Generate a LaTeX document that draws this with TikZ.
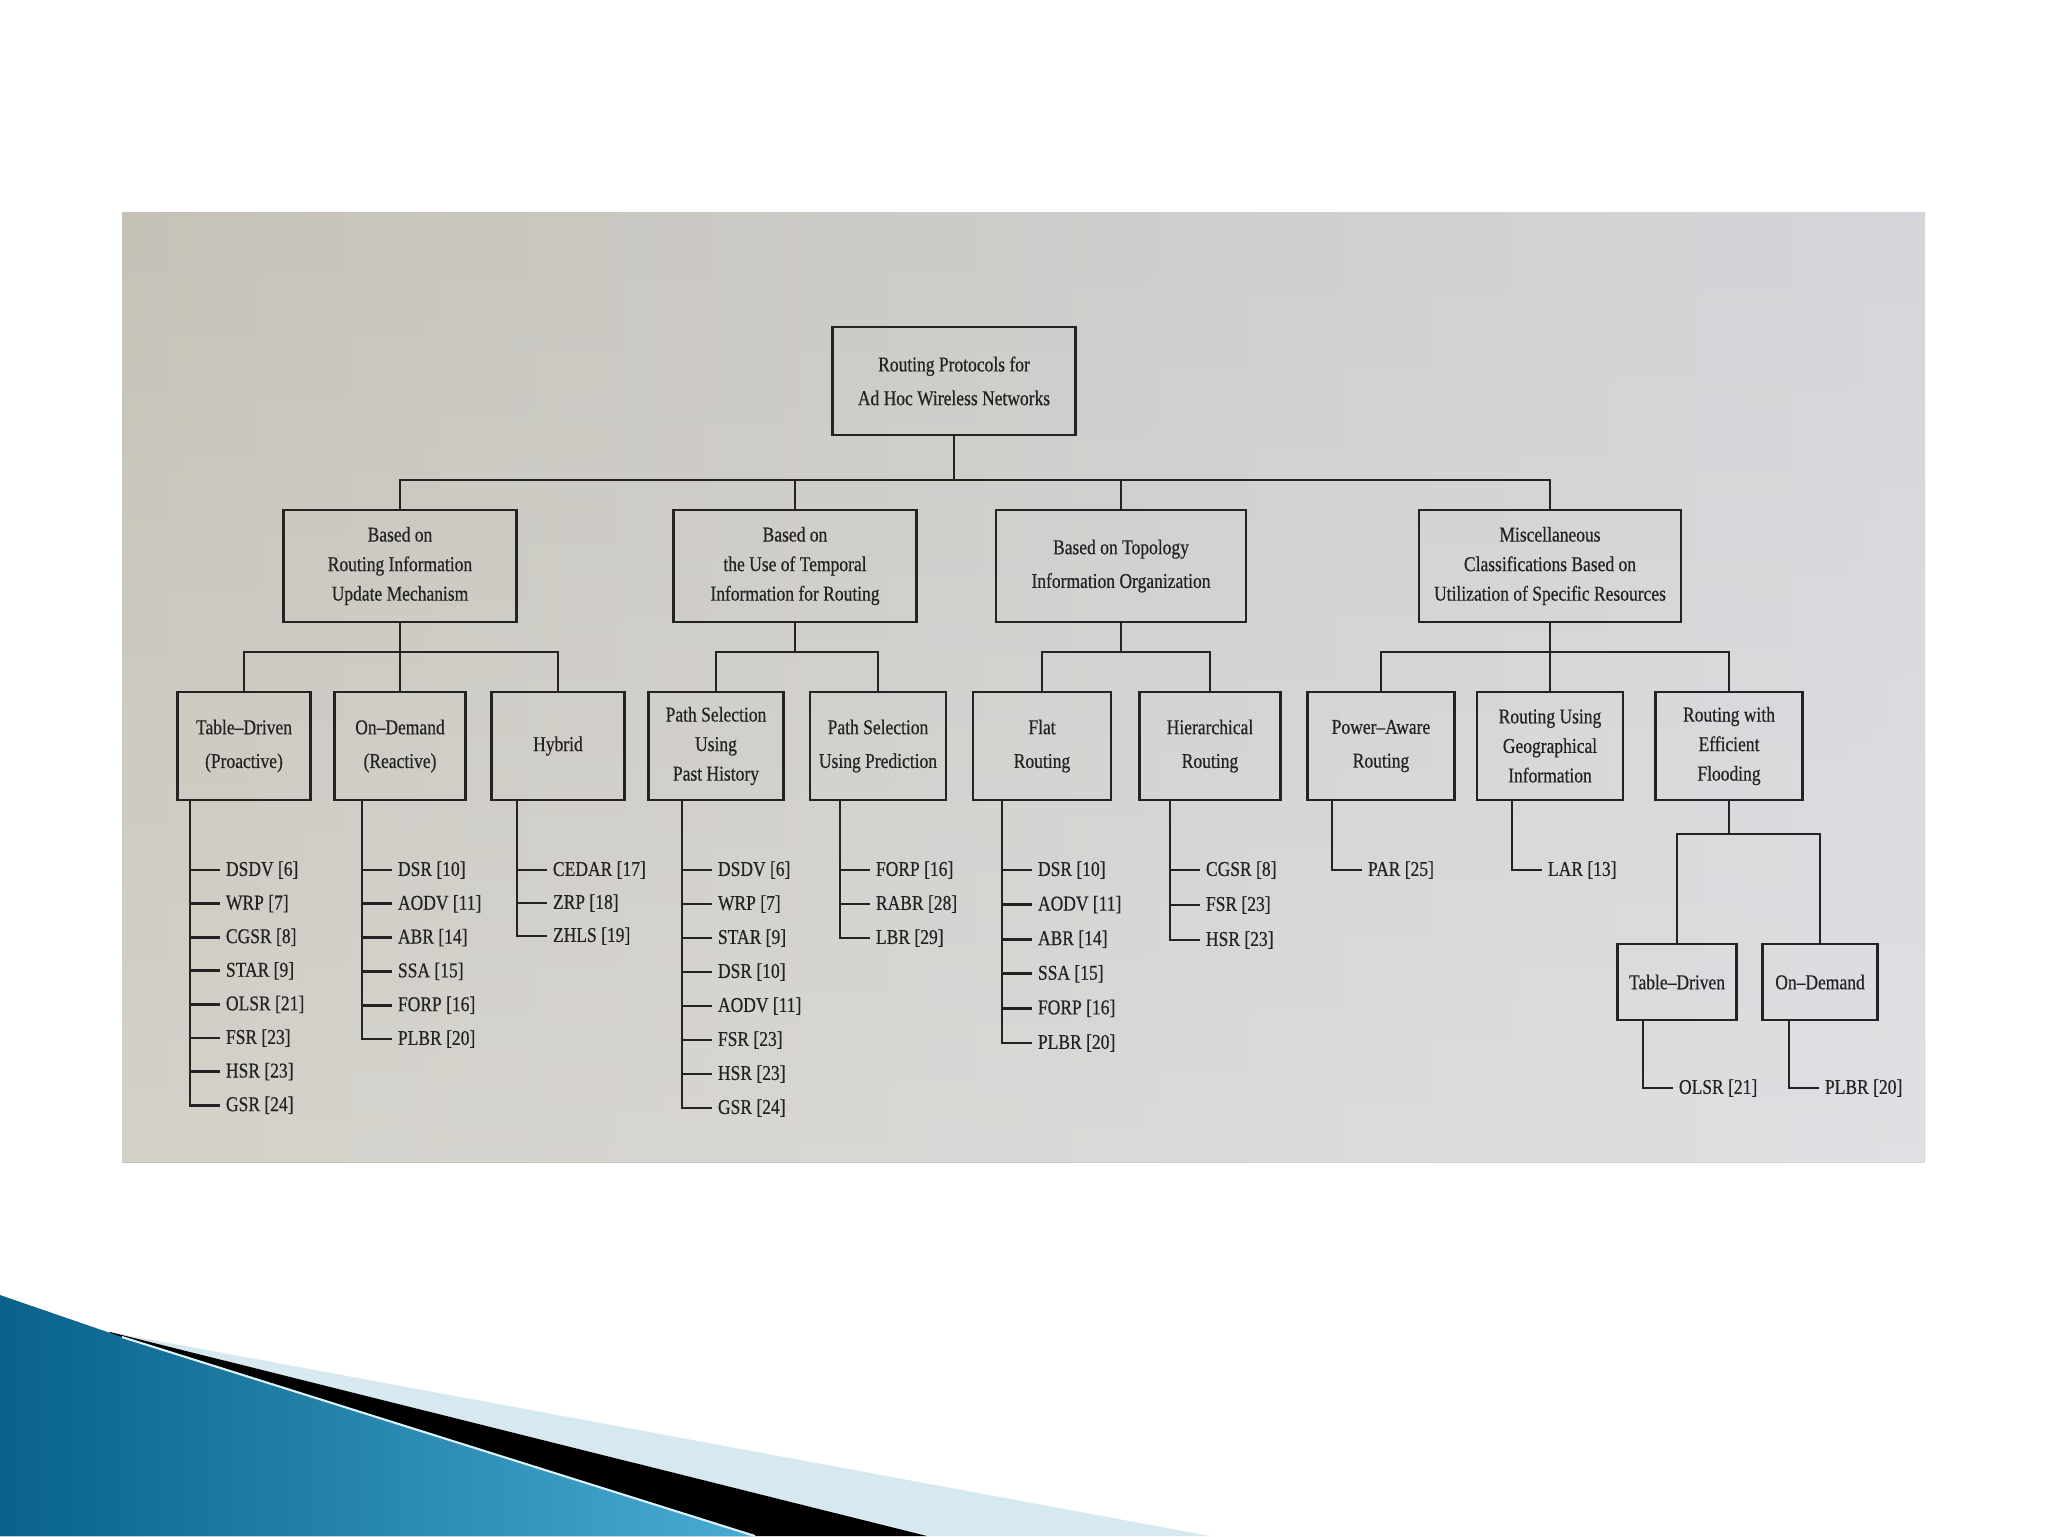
\documentclass[tikz,border=0pt]{standalone}
\usepackage{fontspec}
\setmainfont[FakeStretch=0.83, FakeBold=0.5]{Liberation Serif}
\usetikzlibrary{fadings}

\definecolor{photoL}{RGB}{198,194,184}
\definecolor{photoM}{RGB}{220,220,220}
\definecolor{photoR}{RGB}{213,214,219}
\definecolor{ink}{RGB}{35,35,35}
\definecolor{tealD}{RGB}{8,98,138}
\definecolor{tealL}{RGB}{72,172,210}
\definecolor{paleblue}{RGB}{214,232,240}

\tikzset{
  box/.style={draw=ink, line width=0.8pt, align=center, inner sep=2pt, text=ink,
    font=\fontsize{6}{8.4}\selectfont},
  loose/.style={font=\fontsize{6}{9.6}\selectfont},
  leaf/.style={anchor=west, inner sep=1.5pt, text=ink, font=\fontsize{6}{7}\selectfont},
  link/.style={draw=ink, line width=0.8pt},
}

% parent, spine x, first y, step, list of protocols
\newcommand{\leaflist}[5]{%
  \coordinate (#1-sp) at (#2,0);
  \foreach \t [count=\i] in {#5} {
    \node[leaf] (#1-\i) at ({#2+30},{#3+#4*(\i-1)}) {\t};
    \draw[link] (#1.south -| #1-sp) |- (#1-\i.west);
  }
}

\begin{document}
\begin{tikzpicture}[x=0.1mm, y=-0.1mm]
  \useasboundingbox (0,0) rectangle (2048,1536);
  \fill[white] (0,0) rectangle (2048,1536);

  % photographed page
  \shade[left color=photoL, middle color=photoM, right color=photoR] (122,212) rectangle (1925,1162);
  \fill[white, opacity=0.25, path fading=north] (122,212) rectangle (1925,1162);

  % slide swoosh
  \fill[paleblue] (110,1332) -- (1210,1536) -- (0,1536) -- cycle;
  \fill[black] (110,1332) -- (927,1536) -- (0,1536) -- cycle;
  \shade[left color=tealD, right color=tealL] (0,1295) -- (122,1337) -- (755,1536) -- (0,1536) -- cycle;
  \draw[cyan!15, line width=0.6pt] (122,1337) -- (755,1536);

  % root
  \node[box, loose, minimum width=24.3mm, minimum height=10.8mm] (root) at (954,381)
    {Routing Protocols for\\Ad Hoc Wireless Networks};

  % first level
  \node[box, minimum width=23.3mm, minimum height=11.2mm] (rinfo) at (400,566)
    {Based on\\Routing Information\\Update Mechanism};
  \node[box, minimum width=24.3mm, minimum height=11.2mm] (temp) at (795,566)
    {Based on\\the Use of Temporal\\Information for Routing};
  \node[box, loose, minimum width=25mm, minimum height=11.2mm] (topo) at (1121,566)
    {Based on Topology\\Information Organization};
  \node[box, minimum width=26.2mm, minimum height=11.2mm] (misc) at (1550,566)
    {Miscellaneous\\Classifications Based on\\Utilization of Specific Resources};

  % second level
  \node[box, loose, minimum width=13.3mm, minimum height=10.8mm] (tdp) at (244,746) {Table--Driven\\(Proactive)};
  \node[box, loose, minimum width=13.1mm, minimum height=10.8mm] (odp) at (400,746) {On--Demand\\(Reactive)};
  \node[box, minimum width=13.3mm, minimum height=10.8mm] (hyb) at (558,746) {Hybrid};
  \node[box, minimum width=13.5mm, minimum height=10.8mm] (psh) at (716,746) {Path Selection\\Using\\Past History};
  \node[box, loose, minimum width=13.6mm, minimum height=10.8mm] (psp) at (878,746) {Path Selection\\Using Prediction};
  \node[box, loose, minimum width=13.8mm, minimum height=10.8mm] (flat) at (1042,746) {Flat\\Routing};
  \node[box, loose, minimum width=14.1mm, minimum height=10.8mm] (hier) at (1210,746) {Hierarchical\\Routing};
  \node[box, loose, minimum width=14.7mm, minimum height=10.8mm] (pwr) at (1381,746) {Power--Aware\\Routing};
  \node[box, minimum width=14.6mm, minimum height=10.8mm] (geo) at (1550,746) {Routing Using\\Geographical\\Information};
  \node[box, minimum width=14.7mm, minimum height=10.8mm] (eff) at (1729,746) {Routing with\\Efficient\\Flooding};

  % flooding subtree
  \node[box, minimum width=11.9mm, minimum height=7.6mm] (ftd) at (1677,982) {Table--Driven};
  \node[box, minimum width=11.5mm, minimum height=7.6mm] (fod) at (1820,982) {On--Demand};

  % connectors
  \coordinate (bus1) at (954,480);
  \draw[link] (root.south) -- (root.south |- bus1);
  \draw[link] (rinfo.north) -- (rinfo.north |- bus1) -- (misc.north |- bus1) -- (misc.north);
  \foreach \n in {temp,topo}
    \draw[link] (\n.north) -- (\n.north |- bus1);

  \coordinate (bus2) at (0,652);
  \foreach \p/\a/\b in {rinfo/tdp/hyb, temp/psh/psp, topo/flat/hier, misc/pwr/eff} {
    \draw[link] (\p.south) -- (\p.south |- bus2);
    \draw[link] (\a.north) -- (\a.north |- bus2) -- (\b.north |- bus2) -- (\b.north);
  }
  \foreach \n in {odp,geo}
    \draw[link] (\n.north) -- (\n.north |- bus2);

  \coordinate (bus3) at (0,834);
  \draw[link] (eff.south) -- (eff.south |- bus3);
  \draw[link] (ftd.north) -- (ftd.north |- bus3) -- (fod.north |- bus3) -- (fod.north);

  % protocol lists
  \leaflist{tdp}{190}{870}{33.6}{DSDV [6], WRP [7], CGSR [8], STAR [9], OLSR [21], FSR [23], HSR [23], GSR [24]}
  \leaflist{odp}{362}{870}{33.8}{DSR [10], AODV [11], ABR [14], SSA [15], FORP [16], PLBR [20]}
  \leaflist{hyb}{517}{870}{33}{CEDAR [17], ZRP [18], ZHLS [19]}
  \leaflist{psh}{682}{870}{34}{DSDV [6], WRP [7], STAR [9], DSR [10], AODV [11], FSR [23], HSR [23], GSR [24]}
  \leaflist{psp}{840}{870}{34}{FORP [16], RABR [28], LBR [29]}
  \leaflist{flat}{1002}{870}{34.6}{DSR [10], AODV [11], ABR [14], SSA [15], FORP [16], PLBR [20]}
  \leaflist{hier}{1170}{870}{35}{CGSR [8], FSR [23], HSR [23]}
  \leaflist{pwr}{1332}{870}{34}{PAR [25]}
  \leaflist{geo}{1512}{870}{34}{LAR [13]}
  \leaflist{ftd}{1643}{1088}{34}{OLSR [21]}
  \leaflist{fod}{1789}{1088}{34}{PLBR [20]}
\end{tikzpicture}
\end{document}
